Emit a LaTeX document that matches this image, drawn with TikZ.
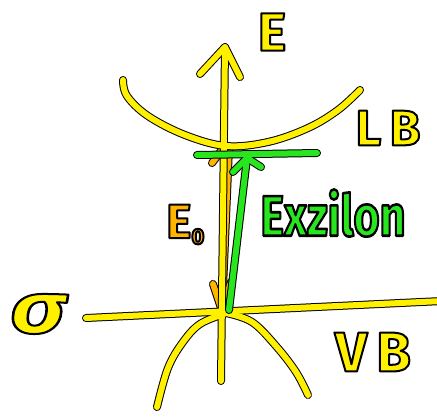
\documentclass[tikz,border=0pt]{standalone}
\usepackage{fontspec}
\setmainfont{Fira Sans}
\definecolor{ylw}{RGB}{255,240,0}
\definecolor{grn}{RGB}{40,230,30}
\definecolor{org}{RGB}{255,180,0}
\newcommand\outl[1]{\special{pdf:code 2 Tr 2 w 1 j 0 G}#1\special{pdf:code 0 Tr}}
\tikzset{
  outl/.style={draw=black,line width=8pt,line cap=round,line join=round},
  pen/.style={draw=#1,line width=6pt,line cap=round,line join=round},
  lbl/.style={inner sep=0pt,font=\bfseries},
}
\newcommand\yellowpaths[1]{%
  \draw[#1] (axb) -- (axt);
  \draw[#1] (ahl) -- (axt) -- (ahr);
  \draw[#1] plot[smooth,tension=0.6] coordinates {(123,80) (127,96) (148,116) (185,135) (226,146) (268,142) (308,128) (338,110) (360,90)};
  \draw[#1] (bl) -- (br);
  \draw[#1] plot[smooth,tension=0.6] coordinates {(224,314) (200,324) (183,342) (168,368) (157,407)};
  \draw[#1] plot[smooth,tension=0.6] coordinates {(226,313) (252,322) (276,346) (296,372) (308,395)};
}
\newcommand\orangepaths[1]{%
  \draw[#1] (ot) -- (ob);
  \draw[#1] (oal) -- (ob) -- (oar);
  \draw[#1] (212,163) -- (221,151);
}
\newcommand\greenpaths[1]{%
  \draw[#1] (gl) -- (gr);
  \draw[#1] (gb) -- (gt);
  \draw[#1] (gal) -- (gt) -- (gar);
}
\begin{document}
\begin{tikzpicture}[x=1pt,y=-1pt]
\useasboundingbox (0,0) rectangle (437,416);
\fill[white] (0,0) rectangle (437,416);
% coordinates
\coordinate (axb) at (221,381);
\coordinate (axt) at (225,47);
\coordinate (ahl) at (200,74);
\coordinate (ahr) at (240,77);
\coordinate (bl) at (86,318);
\coordinate (br) at (442,301);
\coordinate (ot) at (229,147);
\coordinate (ob) at (222,311);
\coordinate (oal) at (213,284);
\coordinate (oar) at (231,282);
\coordinate (gl) at (197,155);
\coordinate (gr) at (317,153);
\coordinate (gb) at (229,310);
\coordinate (gt) at (247,158);
\coordinate (gal) at (233,172);
\coordinate (gar) at (261,167);
% strokes
\orangepaths{outl}
\orangepaths{pen=org}
\yellowpaths{outl}
\yellowpaths{pen=ylw}
\greenpaths{outl}
\greenpaths{pen=grn}
% labels
\node[lbl,text=ylw,font=\bfseries\fontsize{54}{54}\selectfont] (E) at (272,32) {\outl{E}};
\node[lbl,text=ylw,font=\bfseries\fontsize{50}{50}\selectfont] (LB) at (388,128) {\outl{L\,B}};
\node[lbl,text=ylw,font=\bfseries\fontsize{56}{56}\selectfont] (VB) at (373,352) {\outl{V\,B}};
\node[lbl,text=ylw,font=\bfseries\itshape\fontsize{72}{72}\selectfont] (sig) at (38,314) {\scalebox{1.3}[1]{\outl{σ}}};
\node[lbl,text=org,font=\bfseries\fontsize{48}{48}\selectfont,anchor=base west] (E0) at (166,238) {\outl{E}\raisebox{-6pt}{\fontsize{22}{22}\selectfont\outl{0}}};
\node[lbl,text=grn,font=\bfseries\fontsize{44}{44}\selectfont] (exc) at (333,213) {\scalebox{1.02}[1.3]{\outl{Exzilon}}};
\end{tikzpicture}
\end{document}
